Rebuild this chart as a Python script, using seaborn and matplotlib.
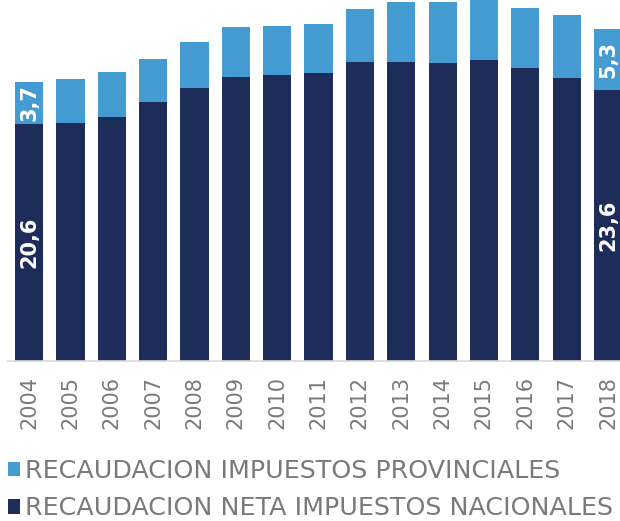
import matplotlib
matplotlib.use("Agg")
import matplotlib.pyplot as plt
import seaborn as sns
import pandas as pd
from matplotlib.patches import Patch

years = ["2004", "2005", "2006", "2007", "2008", "2009", "2010", "2011",
         "2012", "2013", "2014", "2015", "2016", "2017", "2018"]
nacionales = [20.6, 20.7, 21.2, 22.5, 23.7, 24.7, 24.9, 25.0,
              26.0, 26.0, 25.9, 26.2, 25.5, 24.6, 23.6]
provinciales = [3.7, 3.8, 3.9, 3.8, 4.0, 4.3, 4.2, 4.3,
                4.6, 5.2, 5.3, 5.2, 5.2, 5.5, 5.3]
label_prov = "RECAUDACION IMPUESTOS PROVINCIALES"
label_nac = "RECAUDACION NETA IMPUESTOS NACIONALES"

DARK = "#1E2C5A"
LIGHT = "#439BD1"
GRAY = "#7a7a7a"

df = pd.DataFrame({"year": years, "nac": nacionales, "prov": provinciales})
df["total"] = df["nac"] + df["prov"]

sns.set_theme(style="white")
plt.rcParams["font.family"] = ["DejaVu Sans"]

fig = plt.figure(figsize=(6.2, 5.21), dpi=100)
ax = fig.add_axes([8 / 620, 1 - 361 / 521, 612 / 620, 361 / 521])

sns.barplot(data=df, x="year", y="total", color=LIGHT, saturation=1,
            width=0.68, ax=ax, linewidth=0)
sns.barplot(data=df, x="year", y="nac", color=DARK, saturation=1,
            width=0.68, ax=ax, linewidth=0)

ax.set_xlim(-0.51, 14.29)
ax.set_ylim(0, 31.39)
ax.set_xlabel("")
ax.set_ylabel("")
ax.set_yticks([])
for s in ["top", "right", "left"]:
    ax.spines[s].set_visible(False)
ax.spines["bottom"].set_color("#d9d9d9")
ax.spines["bottom"].set_linewidth(1.2)
ax.tick_params(axis="x", length=0, pad=11, labelsize=15, labelcolor=GRAY,
               rotation=90)

# value labels on first and last bars
for i in [0, len(years) - 1]:
    n = nacionales[i]
    p = provinciales[i]
    ax.text(i, n / 2, f"{n:.1f}".replace(".", ","), rotation=90,
            ha="center", va="center", color="white", fontsize=15,
            fontweight="bold", clip_on=True)
    ax.text(i, n + p / 2, f"{p:.1f}".replace(".", ","), rotation=90,
            ha="center", va="center", color="white", fontsize=15,
            fontweight="bold", clip_on=True)

handles = [Patch(facecolor=LIGHT, edgecolor="none", label=label_prov),
           Patch(facecolor=DARK, edgecolor="none", label=label_nac)]
leg = fig.legend(handles=handles, loc="upper left",
                 bbox_to_anchor=(8 / 620, 1 - 459 / 521), frameon=False,
                 handlelength=0.48, handleheight=0.48, handletextpad=0.2,
                 labelspacing=0.53, fontsize=18.3, borderaxespad=0,
                 borderpad=0)
for t in leg.get_texts():
    t.set_color(GRAY)

fig.savefig("out.png", dpi=100)
